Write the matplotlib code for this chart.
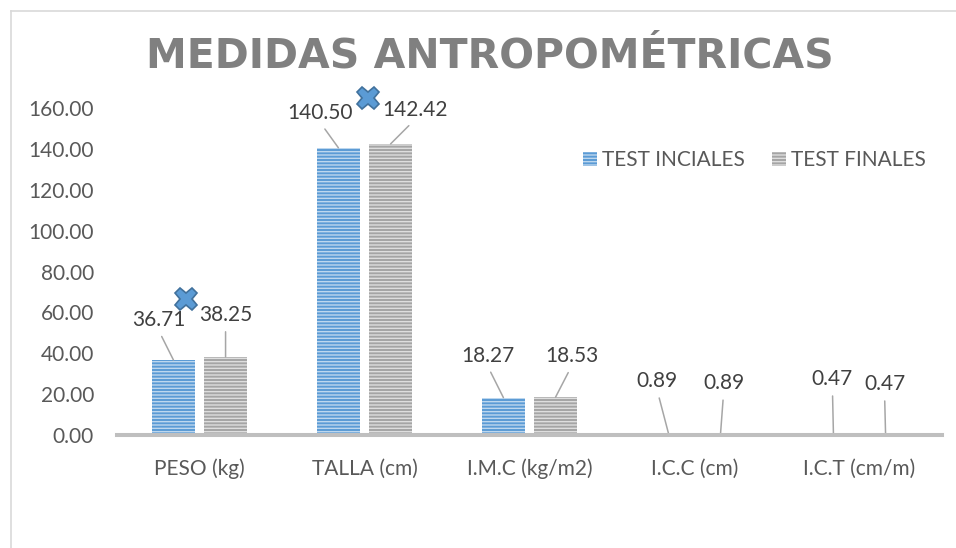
import matplotlib
matplotlib.use("Agg")
import matplotlib.pyplot as plt
from matplotlib.patches import Patch
from matplotlib.lines import Line2D
import numpy as np

categories = ["PESO (kg)", "TALLA (cm)", "I.M.C (kg/m2)", "I.C.C (cm)", "I.C.T (cm/m)"]
test_iniciales = [36.71, 140.50, 18.27, 0.89, 0.47]
test_finales = [38.25, 142.42, 18.53, 0.89, 0.47]
# stray marker series visible on the chart
marker_pos = [-0.08, 1.02]
marker_vals = [66.5, 165.0]

# label offsets (pixels) from bar top, as placed in the original
off_ini = [(-15, 40), (-18, 35), (-16, 42), (-11, 52), (-1, 55)]
off_fin = [(0, 42), (24, 34), (16, 41), (3, 50), (-1, 50)]

W, H = 956, 548
plt.rcParams["font.family"] = ["Lato", "DejaVu Sans"]
plt.rcParams["hatch.linewidth"] = 1.0

fig = plt.figure(figsize=(W / 100, H / 100), dpi=100)
ax = fig.add_axes([117 / W, (H - 435) / H, (942 - 117) / W, (435 - 108) / H])

x = np.arange(len(categories))
bw = 0.26
dx = 0.158
BLUE, BLUE_H = "#5b9bd5", "#bdd7ee"
GRAY, GRAY_H = "#a5a5a5", "#dedede"

ax.bar(x - dx, test_iniciales, bw, color=BLUE, edgecolor=BLUE_H, linewidth=0, hatch="-----")
ax.bar(x + dx, test_finales, bw, color=GRAY, edgecolor=GRAY_H, linewidth=0, hatch="-----")

ax.plot(marker_pos, marker_vals, linestyle="none", marker="X", ms=16,
        markerfacecolor="#5b9bd5", markeredgecolor="#41719c", markeredgewidth=1.2,
        clip_on=False, zorder=5)

lead = dict(arrowstyle="-", color="#a6a6a6", lw=1.1, shrinkA=3, shrinkB=0, relpos=(0.5, 0))
for i in range(len(categories)):
    for xv, val, off in ((x[i] - dx, test_iniciales[i], off_ini[i]),
                         (x[i] + dx, test_finales[i], off_fin[i])):
        ax.annotate("%.2f" % val, xy=(xv, val), xytext=off, textcoords="offset pixels",
                    ha="center", va="center", fontsize=15, color="#404040",
                    arrowprops=lead, annotation_clip=False)

ax.set_xlim(-0.5, len(categories) - 0.5)
ax.set_ylim(0, 160)
ax.set_yticks(np.arange(0, 161, 20))
ax.set_yticklabels(["%.2f" % v for v in np.arange(0, 161, 20)])
ax.set_xticks(x)
ax.set_xticklabels(categories)
ax.tick_params(axis="y", length=0, pad=16.5, labelsize=15, labelcolor="#595959")
ax.tick_params(axis="x", length=0, pad=17, labelsize=15, labelcolor="#595959")
for s in ["top", "right", "left"]:
    ax.spines[s].set_visible(False)
ax.spines["bottom"].set_color("#bfbfbf")
ax.spines["bottom"].set_linewidth(2.9)
ax.spines["bottom"].set_zorder(3)

handles = [Patch(facecolor=BLUE, edgecolor=BLUE_H, linewidth=0, hatch="-----"),
           Patch(facecolor=GRAY, edgecolor=GRAY_H, linewidth=0, hatch="-----")]
fig.legend(handles, ["TEST INCIALES", "TEST FINALES"], ncol=2, frameon=False,
           loc="center left", bbox_to_anchor=(583 / W, (H - 160) / H),
           fontsize=15, labelcolor="#595959", handlelength=0.67, handleheight=0.67,
           handletextpad=0.25, columnspacing=1.3, borderpad=0, borderaxespad=0)

fig.text(490 / W, (H - 67) / H, "MEDIDAS ANTROPOMÉTRICAS", ha="center", va="baseline",
         fontsize=29.5, fontweight="bold", color="#808080", family="DejaVu Sans")

# chart area border (top and left edges visible)
fig.add_artist(Line2D([11 / W, 11 / W], [0, (H - 11) / H], color="#d9d9d9", lw=1.2))
fig.add_artist(Line2D([11 / W, 1], [(H - 11) / H, (H - 11) / H], color="#d9d9d9", lw=1.2))

fig.savefig("out.png", dpi=100)
